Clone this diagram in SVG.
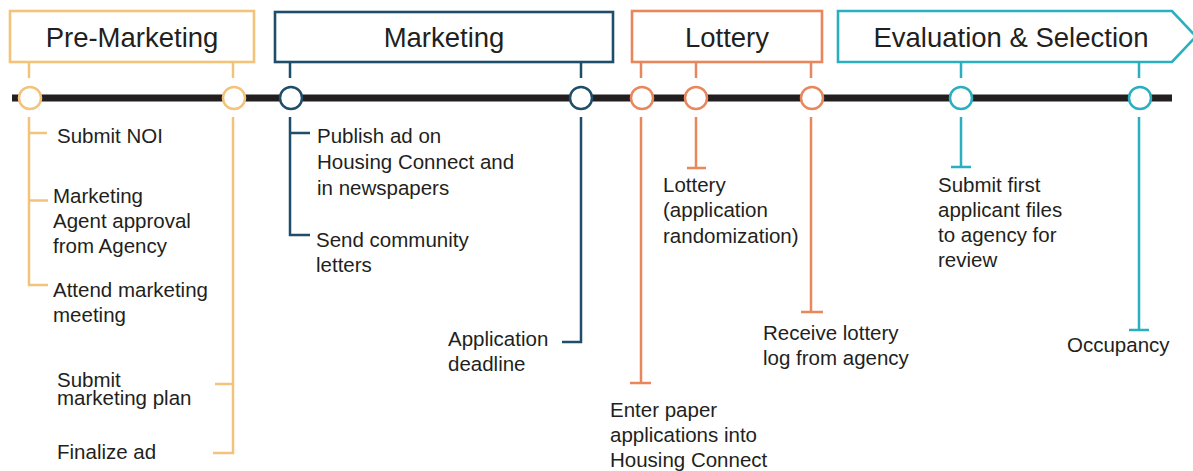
<svg xmlns="http://www.w3.org/2000/svg" width="1193" height="471" viewBox="0 0 1193 471">
<style>
.hd{font-family:"Liberation Sans",Arial,sans-serif;font-size:27.5px;fill:#231F20;text-anchor:middle}
.tx{font-family:"Liberation Sans",Arial,sans-serif;font-size:20.5px;fill:#231F20}
.box{fill:#fff;stroke-width:2.6}
.ln{fill:none;stroke-width:2.5}
.dot{fill:#fff;stroke-width:2.5}
.pre{stroke:#F3C27B}
.mkt{stroke:#1F4E6B}
.lot{stroke:#E9875C}
.eva{stroke:#2AAFC1}
</style>
<rect width="1193" height="471" fill="#fff"/>
<g id="timeline">
<line x1="12" y1="98" x2="1172" y2="98" stroke="#231F20" stroke-width="7"/>
</g>
<g id="connectors">
<path class="ln pre" d="M29,62V78M233,62V78M29,117V285H48M29,133H47M29,200.5H48M233,117V453H213M233,384H215"/>
<path class="ln mkt" d="M290,62V78M581,62V78M290,117V235H310M290,133H310M581,117V342H562"/>
<path class="ln lot" d="M641,62V78M696,62V78M811,62V78M641,117V383M630,383H651M696,117V168M687,168H706M811,117V312H812M801,312H823"/>
<path class="ln eva" d="M961,62V78M1139,62V78M961,117V167M951,167H971M1139,117V330M1129,330H1149"/>
</g>
<g id="pre-marketing">
<rect class="box pre" x="10" y="11" width="244" height="51"/>
<text class="hd" x="132" y="47">Pre-Marketing</text>
<circle class="dot pre" cx="30" cy="98" r="11"/>
<circle class="dot pre" cx="234" cy="98" r="11"/>
<text class="tx" x="57" y="143">Submit NOI</text>
<text class="tx" x="53" y="203">Marketing</text>
<text class="tx" x="53" y="228">Agent approval</text>
<text class="tx" x="53" y="253">from Agency</text>
<text class="tx" x="53" y="297">Attend marketing</text>
<text class="tx" x="53" y="322">meeting</text>
<text class="tx" x="57" y="387">Submit</text>
<text class="tx" x="57" y="405">marketing plan</text>
<text class="tx" x="57" y="459">Finalize ad</text>
</g>
<g id="marketing">
<rect class="box mkt" x="275" y="12" width="338" height="50"/>
<text class="hd" x="444" y="47">Marketing</text>
<circle class="dot mkt" cx="291" cy="98" r="11"/>
<circle class="dot mkt" cx="581" cy="98" r="11"/>
<text class="tx" x="317" y="143">Publish ad on</text>
<text class="tx" x="317" y="169">Housing Connect and</text>
<text class="tx" x="317" y="195">in newspapers</text>
<text class="tx" x="316" y="247">Send community</text>
<text class="tx" x="316" y="272">letters</text>
<text class="tx" x="448" y="346">Application</text>
<text class="tx" x="448" y="371">deadline</text>
</g>
<g id="lottery">
<rect class="box lot" x="632" y="11" width="190" height="51"/>
<text class="hd" x="727" y="47">Lottery</text>
<circle class="dot lot" cx="642" cy="98" r="11"/>
<circle class="dot lot" cx="696" cy="98" r="11"/>
<circle class="dot lot" cx="812" cy="98" r="11"/>
<text class="tx" x="663" y="192">Lottery</text>
<text class="tx" x="663" y="217">(application</text>
<text class="tx" x="663" y="243">randomization)</text>
<text class="tx" x="763" y="340">Receive lottery</text>
<text class="tx" x="763" y="365">log from agency</text>
<text class="tx" x="610" y="417">Enter paper</text>
<text class="tx" x="610" y="442">applications into</text>
<text class="tx" x="610" y="467">Housing Connect</text>
</g>
<g id="evaluation-selection">
<path class="box eva" d="M838,11H1172L1196,36.5L1172,62H838Z"/>
<text class="hd" x="1011" y="47">Evaluation &amp; Selection</text>
<circle class="dot eva" cx="961" cy="98" r="11"/>
<circle class="dot eva" cx="1140" cy="98" r="11"/>
<text class="tx" x="938" y="192">Submit first</text>
<text class="tx" x="938" y="217">applicant files</text>
<text class="tx" x="938" y="242">to agency for</text>
<text class="tx" x="938" y="267">review</text>
<text class="tx" x="1067" y="352">Occupancy</text>
</g>
</svg>
